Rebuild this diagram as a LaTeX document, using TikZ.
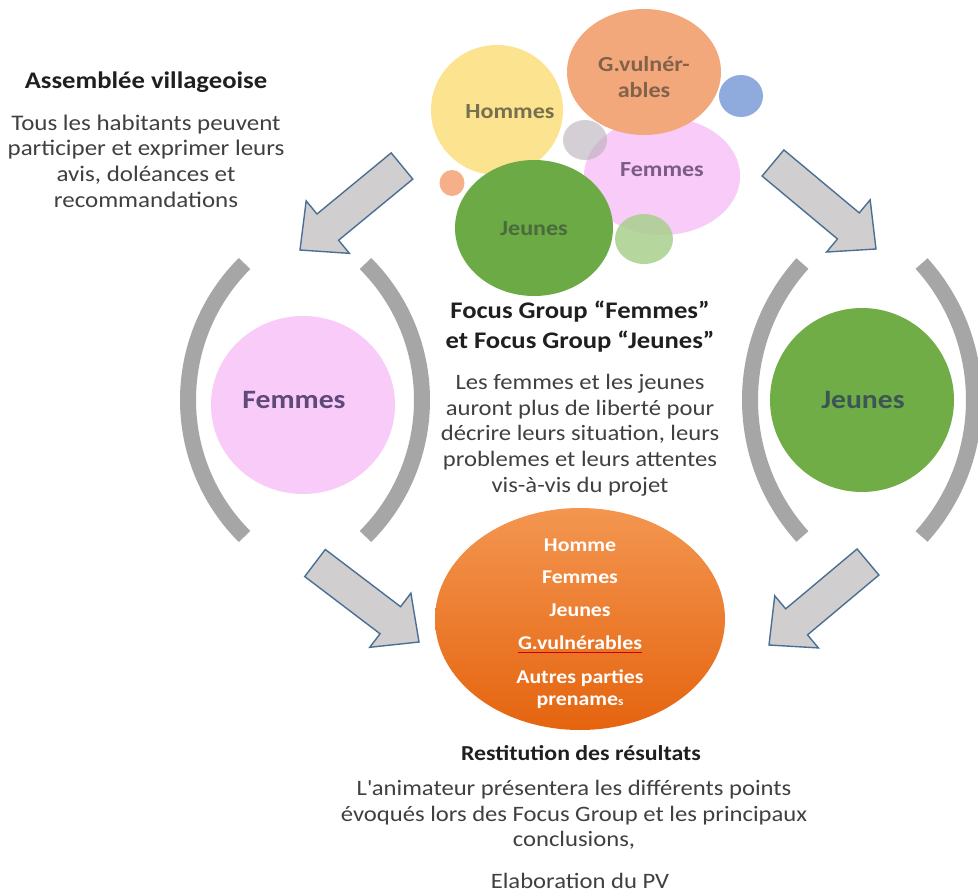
\documentclass[tikz,border=0pt]{standalone}
\usepackage{fontspec}
\setmainfont{Carlito}[FakeStretch=1.12]
\usetikzlibrary{calc,shapes.geometric}
\definecolor{cYel}{HTML}{FCE38F}
\definecolor{cOrL}{HTML}{F3A87C}
\definecolor{cPink}{HTML}{F9CBF8}
\definecolor{cGrn}{HTML}{6CAA45}
\definecolor{cGrnB}{HTML}{70AD47}
\definecolor{cBlue}{HTML}{8FAADC}
\definecolor{cDot}{HTML}{F5B08A}
\definecolor{cGreyS}{HTML}{B8B0B8}
\definecolor{cLGrn}{HTML}{A9D08E}
\definecolor{cParen}{HTML}{A6A6A6}
\definecolor{cArrF}{HTML}{D0CECE}
\definecolor{cArrD}{HTML}{4A6F94}
\definecolor{cOrTop}{HTML}{F39650}
\definecolor{cOrBot}{HTML}{E5640F}
\definecolor{txtgray}{HTML}{404040}
\definecolor{tHom}{HTML}{77704E}
\definecolor{tGv}{HTML}{83624A}
\definecolor{tFem}{HTML}{7B5C87}
\definecolor{tJeu}{HTML}{4A6B3B}
\definecolor{tFemB}{HTML}{5F497A}
\definecolor{tJeuB}{HTML}{3B5654}
\newcommand\blockarr[3]{%
  \coordinate (#1c) at ($(#3)!36pt!(#2)$);
  \draw[barrow] ($(#2)!17pt!90:(#3)$) -- ($(#1c)!17pt!90:(#3)$) -- ($(#1c)!34pt!90:(#3)$)
    -- (#3) -- ($(#1c)!34pt!-90:(#3)$) -- ($(#1c)!17pt!-90:(#3)$) -- ($(#2)!17pt!-90:(#3)$) -- cycle;}
\begin{document}
\begin{tikzpicture}[x=1pt,y=-1pt,
  blob/.style={ellipse, draw=none, inner sep=0},
  lbl/.style={inner sep=0, align=center, font=\fontsize{21.5}{26}\selectfont\bfseries},
  ttl/.style={inner sep=0, align=center, text=black!88, font=\fontsize{23.8}{30}\selectfont\bfseries},
  body/.style={inner sep=0, align=center, text=txtgray, font=\fontsize{22}{25.7}\selectfont},
  wht/.style={inner sep=0, align=center, text=white, font=\fontsize{19.5}{22}\selectfont\bfseries},
  big/.style={inner sep=0, font=\fontsize{26.5}{26.5}\selectfont\bfseries},
  paren/.style={draw=cParen, line width=16pt},
  barrow/.style={fill=cArrF, draw=cArrD, line width=1.4pt, line join=miter}]
\useasboundingbox (0,0) rectangle (978,894);
\fill[white] (0,0) rectangle (978,894);

% left text
\node[ttl] (asmT) at (146,82) {Assemblée villageoise};
\node[body, font=\fontsize{22.3}{25.7}\selectfont] (asmB) at (146,161) {Tous les habitants peuvent\\participer et exprimer leurs\\avis, doléances et\\recommandations};

% top cluster
\node[blob, fill=cYel, minimum width=132, minimum height=130] (hom) at (497,110) {};
\node[blob, fill=cPink, minimum width=156, minimum height=118] (fem) at (662,176) {};
\node[blob, fill=cOrL, minimum width=154, minimum height=126] (gv) at (644,72) {};
\node[blob, fill=cGrn, minimum width=158, minimum height=136] (jeu) at (534,228) {};
\node[blob, fill=cGreyS, opacity=0.6, minimum width=44, minimum height=40] (sg) at (585,140) {};
\node[blob, fill=cLGrn, opacity=0.85, minimum width=58, minimum height=50] (sl) at (644,239) {};
\node[blob, fill=cBlue, minimum width=44, minimum height=42] (sb) at (741,96) {};
\node[blob, fill=cDot, minimum width=25, minimum height=26] (sd) at (452,183) {};
\node[lbl, text=tHom] (homL) at (510,112) {Hommes};
\node[lbl, text=tGv] (gvL) at (644,77) {G.vulnér-\\ables};
\node[lbl, text=tFem] (femL) at (662,170) {Femmes};
\node[lbl, text=tJeu] (jeuL) at (534,229) {Jeunes};

% left group
\node[blob, fill=cPink, minimum width=184, minimum height=178] (femC) at (303,405) {};
\node[big, text=tFemB] (femCL) at (294,400) {Femmes};
\draw[paren] (381,400) ++(135:193) arc (135:225:193);
\draw[paren] (229,400) ++(-45:193) arc (-45:45:193);

% right group
\node[blob, fill=cGrnB, minimum width=184, minimum height=184] (jeuC) at (862,400) {};
\node[big, text=tJeuB] (jeuCL) at (863,400) {Jeunes};
\draw[paren] (954,400) ++(138:204) arc (138:222:204);
\draw[paren] (770,400) ++(-42:204) arc (-42:42:204);

% focus group text
\node[ttl] (fgT) at (580,327) {Focus Group “Femmes”\\et Focus Group “Jeunes”};
\node[body] (fgB) at (580,435) {Les femmes et les jeunes\\auront plus de liberté pour\\décrire leurs situation, leurs\\problemes et leurs attentes\\vis-à-vis du projet};

% restitution ellipse
\node[blob, top color=cOrTop, bottom color=cOrBot, minimum width=290, minimum height=222] (rest) at (580,619) {};
\node[wht] (r1) at (580,545) {Homme};
\node[wht] (r2) at (580,577) {Femmes};
\node[wht] (r3) at (580,610) {Jeunes};
\node[wht] (r4) at (580,643) {G.vulnérables};
\draw[red!80!black, line width=0.9pt] ([yshift=-2pt]r4.south west) -- ([yshift=-2pt]r4.south east);
\node[wht] (r5) at (580,689) {Autres parties\\prename{\fontsize{12}{12}\selectfont s}};

% bottom text
\node[ttl, font=\fontsize{21.3}{26}\selectfont\bfseries] (reT) at (581,753) {Restitution des résultats};
\node[body] (reB) at (574,815) {L\textquotesingle animateur présentera les différents points\\évoqués lors des Focus Group et les principaux\\conclusions,};
\node[body] (reC) at (580,881) {Elaboration du PV};

% block arrows
\coordinate (a1t) at (402,166); \coordinate (a1h) at (300,250);
\coordinate (a2t) at (773,163); \coordinate (a2h) at (876,249);
\coordinate (a3t) at (315,563); \coordinate (a3h) at (419,642);
\coordinate (a4t) at (868,562); \coordinate (a4h) at (769,645);
\blockarr{a1}{a1t}{a1h}
\blockarr{a2}{a2t}{a2h}
\blockarr{a3}{a3t}{a3h}
\blockarr{a4}{a4t}{a4h}
\end{tikzpicture}
\end{document}
